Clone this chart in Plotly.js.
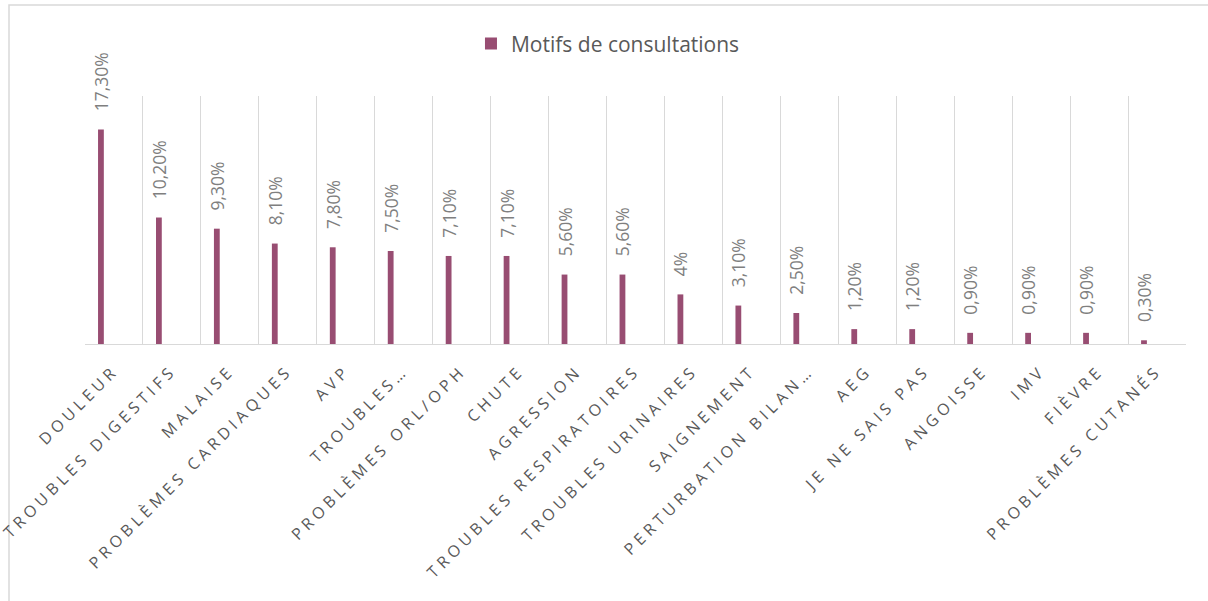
<!DOCTYPE html>
<html>
<head>
<meta charset="utf-8">
<script src="https://cdn.plot.ly/plotly-3.0.1.min.js"></script>
<style>
  html, body { margin: 0; padding: 0; background: #fff; }
  #chart { width: 1208px; height: 601px; }
  .xtick text { letter-spacing: 4.3px; }
</style>
</head>
<body>
<div id="chart"></div>
<script>
const categories = [
  "DOULEUR", "TROUBLES DIGESTIFS", "MALAISE", "PROBLÈMES CARDIAQUES", "AVP",
  "TROUBLES…", "PROBLÈMES ORL/OPH", "CHUTE", "AGRESSION", "TROUBLES RESPIRATOIRES",
  "TROUBLES URINAIRES", "SAIGNEMENT", "PERTURBATION BILAN…", "AEG", "JE NE SAIS PAS",
  "ANGOISSE", "IMV", "FIÈVRE", "PROBLÈMES CUTANÉS"
];
const values = [17.3, 10.2, 9.3, 8.1, 7.8, 7.5, 7.1, 7.1, 5.6, 5.6, 4, 3.1, 2.5, 1.2, 1.2, 0.9, 0.9, 0.9, 0.3];
const valueLabels = [
  "17,30%", "10,20%", "9,30%", "8,10%", "7,80%", "7,50%", "7,10%", "7,10%", "5,60%", "5,60%",
  "4%", "3,10%", "2,50%", "1,20%", "1,20%", "0,90%", "0,90%", "0,90%", "0,30%"
];
const seriesName = "Motifs de consultations";

const trace = {
  type: "bar",
  x: categories,
  y: values,
  name: seriesName,
  text: valueLabels,
  texttemplate: "\u00a0\u00a0\u00a0\u00a0%{text}",
  textposition: "outside",
  textangle: -90,
  constraintext: "none",
  cliponaxis: false,
  outsidetextfont: { family: "Open Sans, sans-serif", size: 17.5, color: "#7f7f7f" },
  marker: { color: "#984d72" },
  width: 0.1,
  offset: -0.275,
  hoverinfo: "skip",
  showlegend: true
};

const layout = {
  width: 1208,
  height: 601,
  margin: { l: 85, r: 22, t: 96, b: 257, pad: 0 },
  paper_bgcolor: "#ffffff",
  plot_bgcolor: "#ffffff",
  showlegend: true,
  legend: {
    orientation: "h",
    x: 0.475, xanchor: "center",
    y: 1.21, yanchor: "middle",
    font: { family: "Open Sans, sans-serif", size: 21, color: "#595959" }
  },
  xaxis: {
    type: "category",
    tickson: "boundaries",
    showgrid: true,
    gridcolor: "#d9d9d9",
    gridwidth: 1,
    showline: true,
    linecolor: "#d9d9d9",
    linewidth: 1,
    ticks: "",
    tickangle: -45,
    ticklabelstandoff: 10,
    tickfont: { family: "Open Sans, sans-serif", size: 16, color: "#595959" },
    automargin: false,
    fixedrange: true
  },
  yaxis: {
    range: [0, 20],
    visible: false,
    showgrid: false,
    zeroline: false,
    fixedrange: true
  },
  shapes: [{
    type: "rect",
    xref: "paper", yref: "paper",
    xsizemode: "pixel", ysizemode: "pixel",
    xanchor: 0, yanchor: 0,
    x0: -76, x1: 1200, y0: -270, y1: 339,
    line: { color: "#d9d9d9", width: 1.5 },
    fillcolor: "rgba(0,0,0,0)",
    layer: "below"
  }]
};

Plotly.newPlot("chart", [trace], layout, { displayModeBar: false, staticPlot: true });
</script>
</body>
</html>
